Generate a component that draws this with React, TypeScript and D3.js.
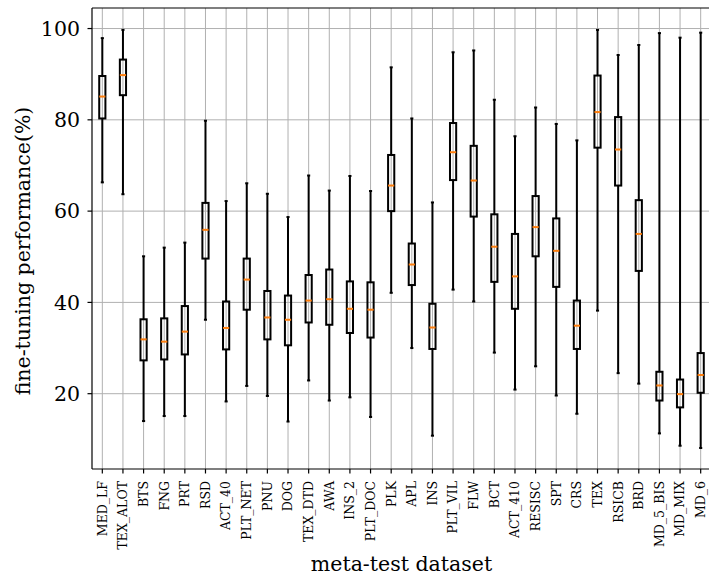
import React from 'react'
import * as d3 from 'd3'

// meta-test datasets, left to right
const datasets = [
  'MED_LF', 'TEX_ALOT', 'BTS', 'FNG', 'PRT', 'RSD', 'ACT_40', 'PLT_NET', 'PNU', 'DOG',
  'TEX_DTD', 'AWA', 'INS_2', 'PLT_DOC', 'PLK', 'APL', 'INS', 'PLT_VIL', 'FLW', 'BCT',
  'ACT_410', 'RESISC', 'SPT', 'CRS', 'TEX', 'RSICB', 'BRD', 'MD_5_BIS', 'MD_MIX', 'MD_6'
]

// box plot stats (%)
const whiskerLow = [
  66.3, 63.7, 14.0, 15.1, 15.1, 36.2, 18.3, 21.7, 19.5, 13.9,
  22.9, 18.5, 19.2, 14.9, 42.1, 30.0, 10.8, 42.8, 40.2, 29.0,
  20.9, 26.0, 19.6, 15.6, 38.2, 24.5, 22.2, 11.3, 8.6, 8.1
]
const q1 = [
  80.3, 85.4, 27.3, 27.5, 28.6, 49.6, 29.7, 38.4, 31.9, 30.6,
  35.6, 35.1, 33.3, 32.3, 60.0, 43.8, 29.8, 66.8, 58.8, 44.5,
  38.6, 50.1, 43.4, 29.8, 73.9, 65.6, 46.9, 18.5, 17.0, 20.2
]
const median = [
  85.1, 89.8, 31.9, 31.4, 33.6, 55.9, 34.4, 45.0, 36.7, 36.2,
  40.4, 40.7, 38.6, 38.4, 65.6, 48.3, 34.5, 72.9, 66.7, 52.2,
  45.7, 56.5, 51.3, 34.9, 81.7, 73.5, 55.0, 21.8, 19.9, 24.1
]
const q3 = [
  89.6, 93.2, 36.3, 36.5, 39.2, 61.8, 40.2, 49.6, 42.5, 41.5,
  46.0, 47.2, 44.6, 44.4, 72.3, 52.9, 39.7, 79.3, 74.3, 59.3,
  55.0, 63.3, 58.4, 40.4, 89.7, 80.6, 62.4, 24.8, 23.1, 28.9
]
const whiskerHigh = [
  97.9, 99.7, 50.1, 52.0, 53.1, 79.8, 62.2, 66.1, 63.8, 58.7,
  67.8, 64.5, 67.7, 64.4, 91.5, 80.3, 61.9, 94.8, 95.2, 84.4,
  76.4, 82.7, 79.1, 75.5, 99.7, 94.2, 96.4, 99.0, 98.0, 99.1
]

const yTicks = [20, 40, 60, 80, 100]

const W = 709
const H = 579
const margin = { top: 8, right: -2, bottom: 110, left: 92 }
const font = '"DejaVu Serif", serif'

export default function App() {
  const x = d3.scaleLinear()
    .domain([0.5, datasets.length + 0.5])
    .range([margin.left, W - margin.right])
  const y = d3.scaleLinear()
    .domain([3.5, 104.5])
    .range([H - margin.bottom, margin.top])

  const bottom = H - margin.bottom
  const right = W - margin.right
  const boxW = x(1.3) - x(1)
  const capW = boxW / 2

  return (
    <svg width={W} height={H} style={{ position: 'absolute', left: 0, top: 0, background: '#fff' }}>
      {/* grid */}
      <g stroke="#b0b0b0" strokeWidth={1}>
        {yTicks.map(t => (
          <line key={'gy' + t} x1={margin.left} x2={right} y1={y(t)} y2={y(t)} />
        ))}
        {datasets.map((d, i) => (
          <line key={'gx' + d} x1={x(i + 1)} x2={x(i + 1)} y1={margin.top} y2={bottom} />
        ))}
      </g>

      {/* boxes */}
      <g>
        {datasets.map((d, i) => {
          const cx = x(i + 1)
          return (
            <g key={d} stroke="#000" strokeWidth={2} fill="none">
              <line x1={cx} x2={cx} y1={y(q1[i])} y2={y(whiskerLow[i])} />
              <line x1={cx} x2={cx} y1={y(q3[i])} y2={y(whiskerHigh[i])} />
              <line x1={cx - capW / 2} x2={cx + capW / 2} y1={y(whiskerLow[i])} y2={y(whiskerLow[i])} />
              <line x1={cx - capW / 2} x2={cx + capW / 2} y1={y(whiskerHigh[i])} y2={y(whiskerHigh[i])} />
              <rect x={cx - boxW / 2} y={y(q3[i])} width={boxW} height={y(q1[i]) - y(q3[i])} />
              <line x1={cx - boxW / 2} x2={cx + boxW / 2} y1={y(median[i])} y2={y(median[i])}
                stroke="#ff7f0e" />
            </g>
          )
        })}
      </g>

      {/* spines */}
      <g stroke="#000" strokeWidth={1.2} fill="none">
        <line x1={margin.left} x2={margin.left} y1={margin.top} y2={bottom} />
        <line x1={margin.left} x2={right} y1={bottom} y2={bottom} />
        <line x1={margin.left} x2={right} y1={margin.top} y2={margin.top} />
      </g>

      {/* y axis */}
      <g fontFamily={font} fontSize={20.5} fill="#000">
        {yTicks.map(t => (
          <g key={'yt' + t}>
            <line x1={margin.left - 4.5} x2={margin.left} y1={y(t)} y2={y(t)} stroke="#000" strokeWidth={1.2} />
            <text x={margin.left - 12} y={y(t)} dy="0.35em" textAnchor="end">{t}</text>
          </g>
        ))}
        <text transform={`translate(30,251) rotate(-90)`} textAnchor="middle">
          fine-tuning performance(%)
        </text>
      </g>

      {/* x axis */}
      <g fontFamily={font} fill="#000">
        {datasets.map((d, i) => (
          <g key={'xt' + d}>
            <line x1={x(i + 1)} x2={x(i + 1)} y1={bottom} y2={bottom + 4.5} stroke="#000" strokeWidth={1.2} />
            <text fontSize={12.5}
              transform={`translate(${x(i + 1)},${bottom + 12}) rotate(-90)`}
              dy="0.35em" textAnchor="end">{d}</text>
          </g>
        ))}
        <text x={401.5} y={571} fontSize={20.5} textAnchor="middle">meta-test dataset</text>
      </g>
    </svg>
  )
}
